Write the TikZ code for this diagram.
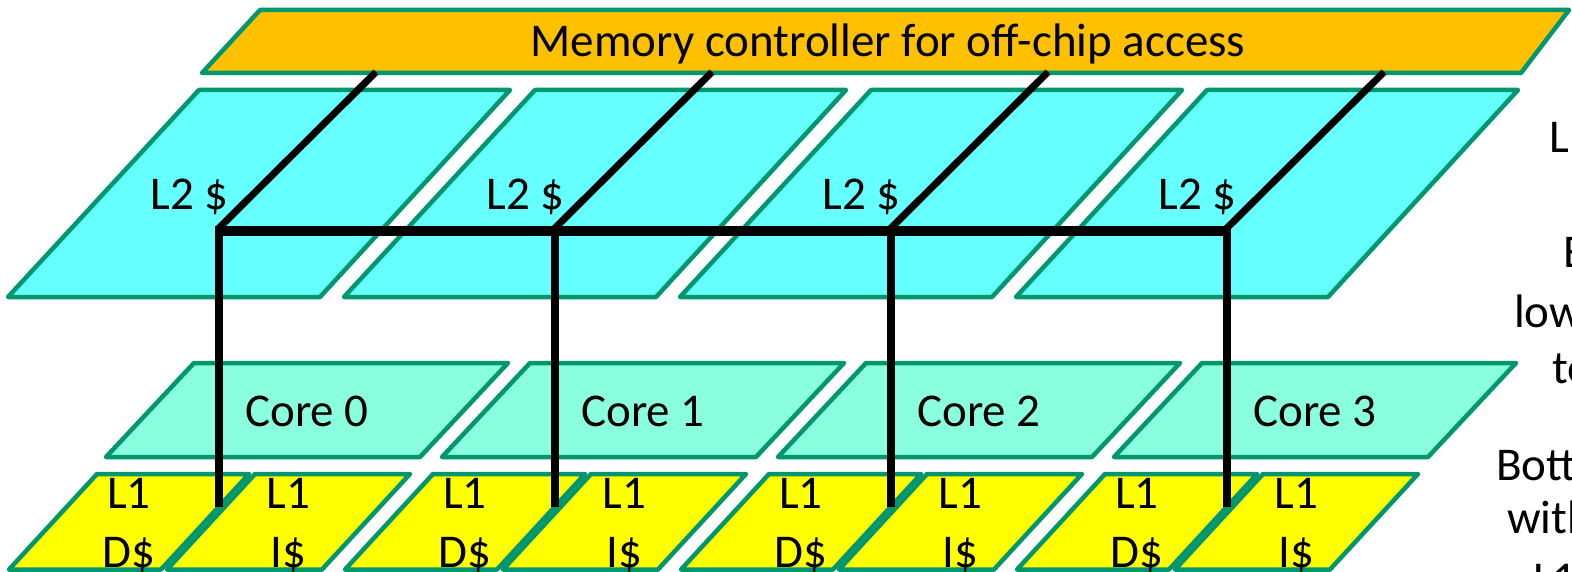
\documentclass[tikz,border=0pt]{standalone}
\usepackage{fontspec}
\setmainfont{Carlito}
\definecolor{edge}{RGB}{0,150,110}
\definecolor{memfill}{RGB}{255,192,0}
\definecolor{ltwofill}{RGB}{102,255,255}
\definecolor{corefill}{RGB}{138,255,222}
\definecolor{lonefill}{RGB}{255,255,0}
\begin{document}
\begin{tikzpicture}[x=1pt,y=-1pt,
  plate/.style={draw=edge,line width=4.5pt,line join=round},
  lbl/.style={inner sep=0pt,font=\fontsize{47}{56}\selectfont,anchor=base},
  side/.style={inner sep=0pt,font=\fontsize{47}{56}\selectfont,anchor=base west},
  diagwire/.style={draw=black,line width=7pt},
  buswire/.style={draw=black,line width=10pt},
  downwire/.style={draw=black,line width=8pt},
]
\useasboundingbox (0,0) rectangle (1572,572);
\clip (0,0) rectangle (1572,572);
\fill[white] (0,0) rectangle (1572,572);

% memory controller
\path[plate,fill=memfill] (260,10) -- (1569,10) -- (1521,73) -- (202,73) -- cycle;
\node[lbl] (mem) at (888,57) {Memory controller for off-chip access};

% L2 caches
\foreach \k in {0,1,2,3}{
  \pgfmathsetmacro\dx{336*\k}
  \path[plate,fill=ltwofill] (199+\dx,90) -- (510+\dx,90) -- (320+\dx,297) -- (8+\dx,297) -- cycle;
  \node[lbl] (l2t\k) at (189.5+\dx,210) {L2 \$};
  \coordinate (mc\k) at (376+\dx,72);
  \coordinate (j\k) at (219+\dx,231);
  \coordinate (jd\k) at (218+\dx,229);
  \coordinate (e\k) at (219+\dx,507);
}
\foreach \k in {0,1,2,3}{
  \draw[diagwire] (mc\k) -- (jd\k);
}

% cores
\foreach \k in {0,1,2,3}{
  \pgfmathsetmacro\dx{336*\k}
  \path[plate,fill=corefill] (194+\dx,363) -- (508+\dx,363) -- (420+\dx,457) -- (106+\dx,457) -- cycle;
  \node[lbl] (core\k) at (307+\dx,426) {Core \k};
}

% L1 caches
\foreach \k in {0,1,2,3}{
  \pgfmathsetmacro\dx{336*\k}
  \path[plate,fill=lonefill] (97+\dx,474) -- (249+\dx,474) -- (161+\dx,569.5) -- (9+\dx,569.5) -- cycle;
  \path[plate,fill=lonefill] (255+\dx,474) -- (410+\dx,474) -- (322+\dx,569.5) -- (167+\dx,569.5) -- cycle;
  \node[lbl] (dA\k) at (129+\dx,508) {L1};
  \node[lbl] (dB\k) at (129+\dx,567) {D\$};
  \node[lbl] (iA\k) at (288.5+\dx,508) {L1};
  \node[lbl] (iB\k) at (288.5+\dx,567) {I\$};
}

% bus and drops
\draw[buswire] ([xshift=-4pt]j0) -- ([xshift=4pt]j3);
\foreach \k in {0,1,2,3}{
  \draw[downwire] (j\k) -- (e\k);
}

% clipped side text
\node[side] (r1) at (1549,153) {L};
\node[side] (r2) at (1563,268) {E};
\node[side] (r3) at (1514,327) {low};
\node[side] (r4) at (1552,383) {to};
\node[side] (r5) at (1496,480) {Bott};
\node[side] (r6) at (1507,533) {with};
\node[side] (r7) at (1533,594) {L1};
\end{tikzpicture}
\end{document}
